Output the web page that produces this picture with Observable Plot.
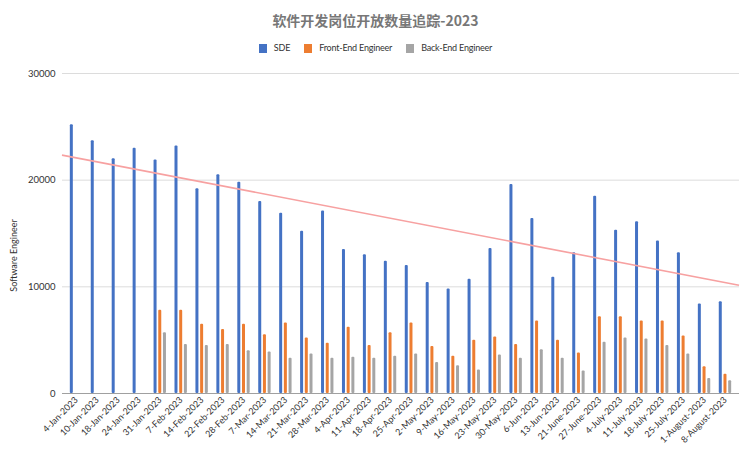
<!DOCTYPE html>
<html><head><meta charset="utf-8">
<script src="https://cdn.jsdelivr.net/npm/d3@7"></script>
<script src="https://cdn.jsdelivr.net/npm/@observablehq/plot@0.6"></script>
<style>
body{margin:0;background:#fff;width:751px;height:454px;overflow:hidden;font-family:Lato,"Noto Sans",sans-serif;position:relative}
#title{position:absolute;top:10px;left:0;width:751px;text-align:center;font-family:"Noto Sans CJK SC",sans-serif;font-weight:bold;font-size:14px;color:#777;line-height:20px}
#legend{position:absolute;top:42px;left:0;width:751px;display:flex;justify-content:center;font-size:9px;letter-spacing:-0.2px;color:#333;line-height:12px}
#legend .item{display:flex;align-items:center;margin:0 7px}
#legend .sw{width:8px;height:9px;margin-right:7px}
#chart{position:absolute;top:58px;left:0}
</style>
</head><body>
<div id="title"></div>
<div id="legend"></div>
<div id="chart"></div>
<script>
const chartTitle = "软件开发岗位开放数量追踪-2023";
const dates = ["4-Jan-2023","10-Jan-2023","18-Jan-2023","24-Jan-2023","31-Jan-2023","7-Feb-2023","14-Feb-2023","22-Feb-2023","28-Feb-2023","7-Mar-2023","14-Mar-2023","21-Mar-2023","28-Mar-2023","4-Apr-2023","11-Apr-2023","18-Apr-2023","25-Apr-2023","2-May-2023","9-May-2023","16-May-2023","23-May-2023","30-May-2023","6-Jun-2023","13-Jun-2023","21-June-2023","27-June-2023","4-July-2023","11-July-2023","18-July-2023","25-July-2023","1-August-2023","8-August-2023"];
const sde = [25200,23700,22000,23000,21900,23200,19200,20500,19800,18000,16900,15200,17100,13500,13000,12400,12000,10400,9800,10700,13600,19600,16400,10900,13200,18500,15300,16100,14300,13200,8400,8600];
const frontEnd = [null,null,null,null,7800,7800,6500,6000,6500,5500,6600,5200,4700,6200,4500,5700,6600,4400,3500,5000,5300,4600,6800,5000,3800,7200,7200,6800,6800,5400,2500,1800];
const backEnd = [null,null,null,null,5700,4600,4500,4600,4000,3900,3300,3700,3300,3400,3300,3500,3700,2900,2600,2200,3600,3300,4100,3300,2100,4800,5200,5100,4500,3700,1400,1200];
const seriesNames = ["SDE","Front-End Engineer","Back-End Engineer"];
const seriesColors = ["#4472c4","#ed7d31","#a5a5a5"];
const yTicks = [0,10000,20000,30000];
const yTitle = "Software Engineer";
// trend line values read at the left and right edges of the plot area
const trendStart = 22300;
const trendEnd = 10100;

document.getElementById("title").textContent = chartTitle;
const legend = document.getElementById("legend");
seriesNames.forEach((n, i) => {
  const it = document.createElement("div"); it.className = "item";
  const sw = document.createElement("div"); sw.className = "sw"; sw.style.background = seriesColors[i];
  const tx = document.createElement("span"); tx.textContent = n;
  it.appendChild(sw); it.appendChild(tx); legend.appendChild(it);
});

const seriesValues = [sde, frontEnd, backEnd];
const W = 751, H = 396, ML = 62, MR = 12, MT = 15, MB = 61;
const padOuter = 0.17;
const step = (W - ML - MR) / (dates.length + 2 * padOuter);
const barW = 3, gap = 4.7;
const inset = (step - barW) / 2;

const barMarks = seriesValues.map((vals, si) => {
  const rows = [];
  vals.forEach((v, i) => { if (v != null) rows.push({date: dates[i], value: v}); });
  return Plot.barY(rows, {x: "date", y: "value", fill: seriesColors[si], insetLeft: inset, insetRight: inset, dx: (si - 1) * gap, rx: 1});
});

function trendMark(index, scales, values, dims) {
  const ns = "http://www.w3.org/2000/svg";
  const line = document.createElementNS(ns, "line");
  line.setAttribute("x1", dims.marginLeft);
  line.setAttribute("x2", dims.width - dims.marginRight);
  line.setAttribute("y1", scales.y(trendStart));
  line.setAttribute("y2", scales.y(trendEnd));
  line.setAttribute("stroke", "#f7a1a1");
  line.setAttribute("stroke-width", 1.6);
  return line;
}

const chart = Plot.plot({
  width: W, height: H,
  marginLeft: ML, marginRight: MR, marginTop: MT, marginBottom: MB,
  style: {fontFamily: "Lato, 'Noto Sans', sans-serif", background: "#fff", overflow: "visible"},
  x: {domain: dates, paddingInner: 0, paddingOuter: padOuter, round: false},
  y: {domain: [0, 30000]},
  marks: [
    Plot.gridY(yTicks, {stroke: "#dcdcdc", strokeOpacity: 1, strokeWidth: 1}),
    ...barMarks,
    Plot.ruleY([0], {stroke: "#a0a0a0", strokeWidth: 1}),
    trendMark,
    Plot.axisY(yTicks, {tickSize: 0, tickPadding: 7, tickFormat: d3.format("d"), fontSize: 9.5, fill: "#333", label: null}),
    Plot.axisX({tickRotate: -45, tickSize: 0, tickPadding: 5, fontSize: 9, fill: "#333", label: null}),
    Plot.text([yTitle], {frameAnchor: "left", textAnchor: "middle", rotate: -90, dx: -48, dy: 22, fontSize: 9, fill: "#333"})
  ]
});
document.getElementById("chart").appendChild(chart);
</script>
</body></html>
